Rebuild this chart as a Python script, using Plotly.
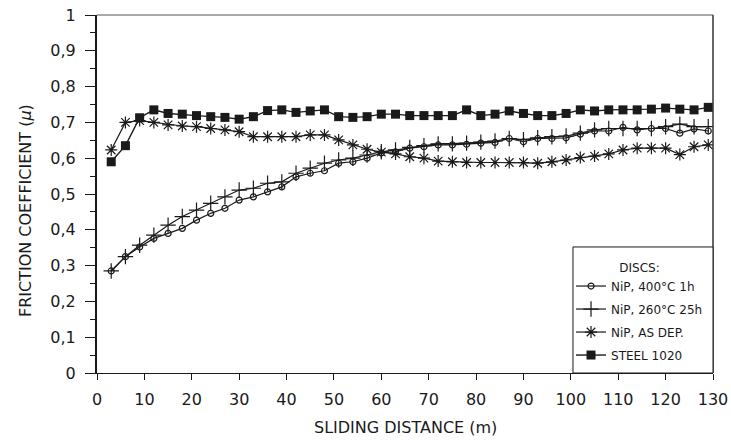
import plotly.graph_objects as go

distance = [3, 6, 9, 12, 15, 18, 21, 24, 27, 30, 33, 36, 39, 42, 45, 48, 51, 54, 57, 60,
            63, 66, 69, 72, 75, 78, 81, 84, 87, 90, 93, 96, 99, 102, 105, 108, 111, 114,
            117, 120, 123, 126, 129]

nip_400_1h = [0.285, 0.325, 0.352, 0.376, 0.390, 0.404, 0.427, 0.446, 0.460, 0.483, 0.492,
              0.506, 0.520, 0.548, 0.558, 0.565, 0.586, 0.590, 0.600, 0.615, 0.618, 0.628,
              0.632, 0.637, 0.637, 0.639, 0.642, 0.644, 0.655, 0.646, 0.655, 0.655, 0.657,
              0.667, 0.676, 0.676, 0.686, 0.679, 0.683, 0.683, 0.670, 0.682, 0.676]

nip_260_25h = [0.285, 0.325, 0.357, 0.385, 0.413, 0.437, 0.455, 0.474, 0.492, 0.511, 0.516,
               0.530, 0.534, 0.558, 0.572, 0.586, 0.595, 0.600, 0.609, 0.618, 0.623, 0.630,
               0.635, 0.640, 0.640, 0.642, 0.645, 0.648, 0.655, 0.652, 0.657, 0.660, 0.662,
               0.670, 0.679, 0.683, 0.683, 0.683, 0.683, 0.688, 0.695, 0.688, 0.688]

nip_as_dep = [0.623, 0.700, 0.705, 0.700, 0.693, 0.690, 0.688, 0.683, 0.679, 0.674, 0.660,
              0.660, 0.660, 0.660, 0.665, 0.665, 0.651, 0.637, 0.625, 0.617, 0.612, 0.604,
              0.600, 0.592, 0.590, 0.588, 0.588, 0.588, 0.588, 0.588, 0.586, 0.590, 0.595,
              0.602, 0.606, 0.612, 0.623, 0.628, 0.628, 0.628, 0.610, 0.632, 0.637]

steel_1020 = [0.590, 0.635, 0.713, 0.735, 0.725, 0.723, 0.719, 0.716, 0.714, 0.709, 0.716,
              0.733, 0.735, 0.728, 0.732, 0.735, 0.716, 0.714, 0.716, 0.723, 0.723, 0.719,
              0.719, 0.719, 0.719, 0.735, 0.719, 0.723, 0.732, 0.725, 0.719, 0.719, 0.725,
              0.735, 0.732, 0.735, 0.735, 0.735, 0.737, 0.740, 0.737, 0.735, 0.742]

series_names = ["NiP, 400°C 1h", "NiP, 260°C 25h", "NiP, AS DEP.", "STEEL 1020"]

x_ticks = [0, 10, 20, 30, 40, 50, 60, 70, 80, 90, 100, 110, 120, 130]
y_ticks = [0, 0.1, 0.2, 0.3, 0.4, 0.5, 0.6, 0.7, 0.8, 0.9, 1]
y_tick_labels = ["0", "0,1", "0,2", "0,3", "0,4", "0,5", "0,6", "0,7", "0,8", "0,9", "1"]

x_title = "SLIDING DISTANCE (m)"
y_title = "FRICTION COEFFICIENT (<i>μ</i>)"
legend_title = "DISCS:"

FONT = "DejaVu Sans, Verdana, sans-serif"
INK = "#1a1a1a"

fig = go.Figure()

fig.add_trace(go.Scatter(
    x=distance, y=nip_400_1h, name=series_names[0], mode="lines+markers", legendgroup="a",
    line=dict(color=INK, width=1.2),
    marker=dict(symbol="circle-open", size=6, color=INK, line=dict(width=1.2))))

fig.add_trace(go.Scatter(
    x=distance, y=nip_260_25h, name=series_names[1], mode="lines+markers", legendgroup="b",
    line=dict(color=INK, width=1.2),
    marker=dict(symbol="cross-thin-open", size=11, color=INK, line=dict(width=1.2))))

fig.add_trace(go.Scatter(
    x=distance, y=nip_as_dep, name=series_names[2], mode="lines+markers", legendgroup="c",
    line=dict(color=INK, width=1.2),
    marker=dict(symbol="asterisk-open", size=10, color=INK, line=dict(width=1.2))))

fig.add_trace(go.Scatter(
    x=distance, y=steel_1020, name=series_names[3], mode="lines+markers", legendgroup="d",
    line=dict(color=INK, width=1.4),
    marker=dict(symbol="square", size=9, color=INK)))

fig.update_layout(
    width=731, height=441,
    margin=dict(l=97, r=18, t=15, b=68, autoexpand=False),
    paper_bgcolor="white", plot_bgcolor="white",
    font=dict(family=FONT, color=INK, size=14),
    showlegend=True,
    legend=dict(
        x=0.7695, y=0.327, xanchor="left", yanchor="top",
        borderwidth=0, bgcolor="rgba(0,0,0,0)",
        font=dict(size=12, family=FONT, color=INK),
        title=dict(text=legend_title, side="top center", font=dict(size=12)),
        itemwidth=30, tracegroupgap=4,
    ),
    xaxis=dict(
        range=[0, 130], tickvals=x_ticks, ticktext=[str(v) for v in x_ticks],
        showgrid=False, zeroline=False,
        showline=True, linecolor=INK, linewidth=1.2,
        ticks="outside", ticklen=6, tickcolor=INK, tickwidth=1,
        tickfont=dict(size=16), ticklabelstandoff=6,
    ),
    yaxis=dict(
        range=[0, 1], tickvals=y_ticks, ticktext=y_tick_labels,
        showgrid=False, zeroline=False,
        showline=True, linecolor=INK, linewidth=2,
        ticks="outside", ticklen=10, tickcolor=INK, tickwidth=1,
        minor=dict(dtick=0.05, ticks="outside", ticklen=5, tickcolor=INK, tickwidth=1),
        tickfont=dict(size=16), ticklabelstandoff=6,
    ),
    annotations=[
        dict(text=x_title, xref="paper", yref="paper", x=0.5, y=-0.151,
             xanchor="center", yanchor="middle", showarrow=False,
             font=dict(size=16, family=FONT, color=INK)),
        dict(text=y_title, xref="paper", yref="paper", x=-0.117, y=0.455,
             xanchor="center", yanchor="middle", showarrow=False, textangle=-90,
             font=dict(size=16, family=FONT, color=INK)),
    ],
    shapes=[
        dict(type="line", xref="paper", yref="paper", x0=0, x1=1, y0=1, y1=1,
             line=dict(color="#555555", width=1)),
        dict(type="line", xref="paper", yref="paper", x0=1, x1=1, y0=0, y1=1,
             line=dict(color="#333333", width=1.5)),
        dict(type="rect", xref="paper", yref="paper", x0=0.7727, x1=1, y0=0, y1=0.352,
             line=dict(color=INK, width=1), fillcolor="white", layer="above"),
    ],
)

fig.write_html("out.html")
